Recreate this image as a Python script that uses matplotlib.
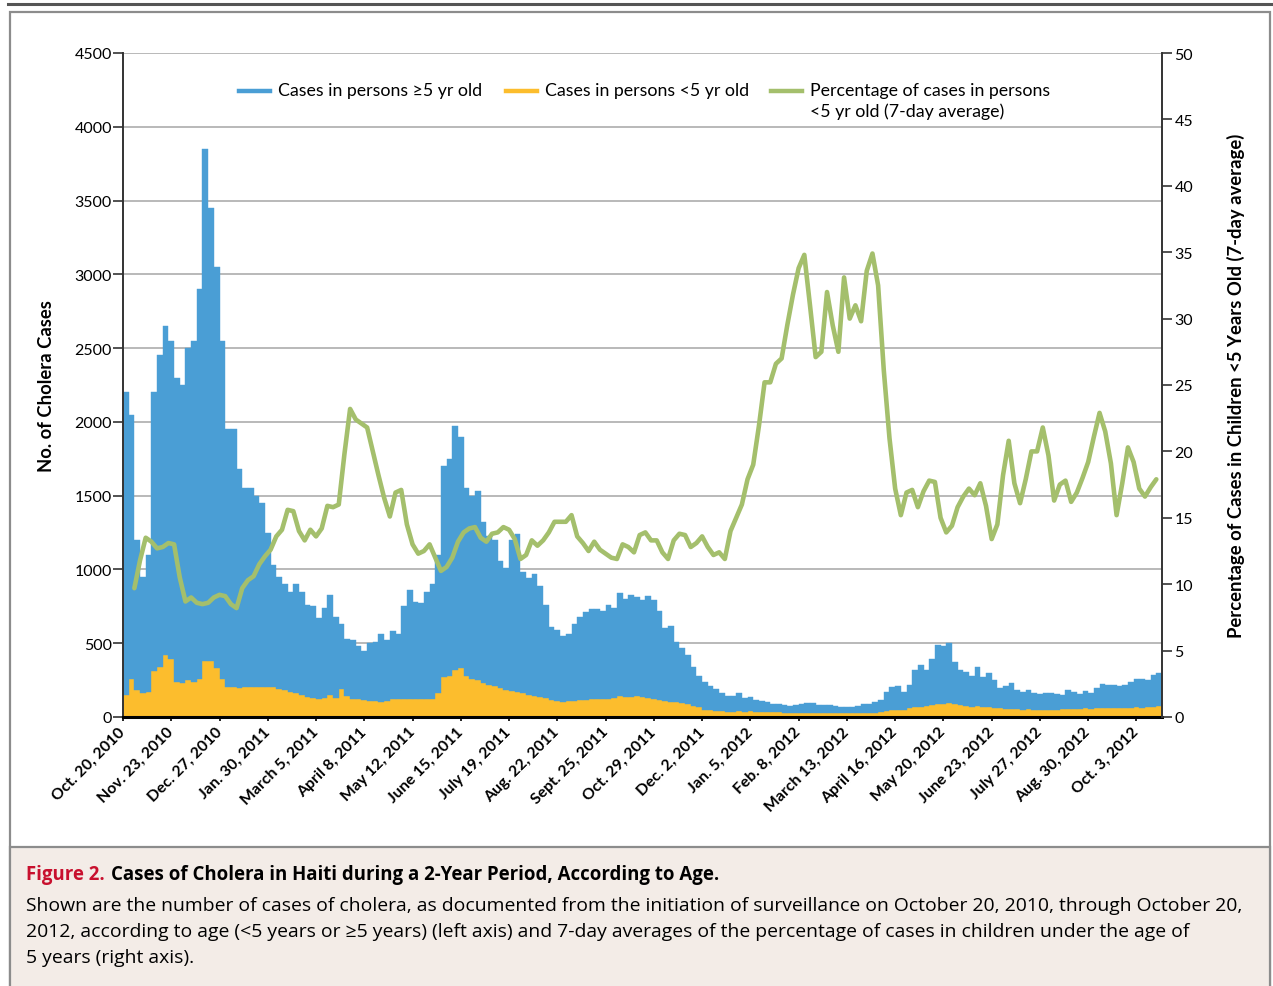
import matplotlib.pyplot as plt
import numpy as np
from matplotlib.lines import Line2D
from matplotlib.patches import Rectangle

plt.rcParams['font.family'] = ['Lato', 'DejaVu Sans']

# surveillance counts grouped in 4-day blocks, first block starts Oct 20, 2010
step = 4

cases_all = [
    2200, 2050, 1200, 950, 1100, 2200, 2450, 2650, 2550, 2300,
    2250, 2500, 2550, 2900, 3850, 3450, 3050, 2550, 1950, 1950,
    1680, 1550, 1550, 1500, 1450, 1250, 1030, 950, 900, 850,
    900, 850, 760, 750, 670, 740, 830, 680, 630, 530,
    520, 480, 450, 500, 510, 560, 520, 580, 560, 750,
    860, 780, 770, 850, 900, 1100, 1700, 1750, 1970, 1900,
    1550, 1500, 1530, 1320, 1230, 1200, 1060, 1010, 1200, 1240,
    980, 940, 970, 890, 760, 610, 590, 550, 560, 630,
    680, 710, 730, 730, 720, 760, 740, 840, 800, 830,
    810, 790, 820, 790, 720, 600, 620, 510, 470, 420,
    340, 280, 235, 210, 190, 160, 142, 140, 160, 130,
    135, 115, 108, 100, 90, 88, 80, 77, 82, 87,
    95, 95, 80, 80, 82, 76, 70, 70, 70, 75,
    85, 90, 105, 115, 170, 200, 210, 170, 220, 320,
    350, 320, 390, 490, 480, 500, 370, 320, 305, 280,
    340, 270, 300, 250, 195, 210, 230, 185, 170, 180,
    160, 155, 165, 160, 155, 150, 180, 170, 155, 175,
    165, 195, 225, 220, 215, 210, 218, 240, 255, 255,
    250, 285, 300,
]

cases_under5 = [
    150, 260, 180, 165, 170, 310, 340, 420, 390, 240,
    230, 250, 240, 260, 380, 380, 330, 260, 200, 200,
    195, 200, 200, 200, 200, 200, 200, 190, 180, 170,
    165, 150, 135, 130, 125, 130, 150, 130, 190, 140,
    125, 120, 115, 110, 110, 105, 110, 120, 125, 120,
    125, 125, 120, 125, 125, 160, 270, 280, 320, 330,
    280, 260, 250, 230, 220, 210, 195, 185, 175, 170,
    160, 150, 140, 135, 130, 115, 110, 105, 108, 110,
    115, 115, 120, 125, 120, 120, 130, 140, 135, 135,
    140, 135, 130, 125, 115, 110, 105, 100, 95, 85,
    75, 65, 50, 45, 42, 38, 35, 35, 38, 36,
    38, 36, 35, 34, 34, 33, 30, 28, 29, 28,
    30, 28, 26, 27, 26, 25, 24, 25, 24, 25,
    27, 28, 30, 33, 40, 48, 48, 50, 60, 65,
    70, 72, 80, 85, 90, 95, 85, 80, 75, 70,
    72, 65, 68, 62, 58, 55, 55, 52, 50, 52,
    50, 50, 48, 50, 48, 52, 55, 52, 55, 58,
    55, 60, 60, 58, 60, 62, 60, 62, 65, 62,
    65, 68, 75,
]

# 7-day average share of cases in children <5 (%)
pct_under5 = [
    np.nan, np.nan, 9.7, 11.8, 13.5, 13.2, 12.7, 12.8, 13.1, 13.0,
    10.5, 8.7, 9.0, 8.6, 8.5, 8.6, 9.0, 9.2, 9.1, 8.5,
    8.2, 9.7, 10.3, 10.6, 11.5, 12.1, 12.6, 13.6, 14.1, 15.6,
    15.5, 14.0, 13.3, 14.1, 13.6, 14.2, 15.9, 15.8, 16.0, 19.8,
    23.2, 22.4, 22.1, 21.8, 20.0, 18.2, 16.5, 15.1, 16.9, 17.1,
    14.5, 13.0, 12.3, 12.5, 13.0, 12.0, 11.0, 11.3, 12.0, 13.2,
    13.9, 14.2, 14.3, 13.5, 13.2, 13.8, 13.9, 14.3, 14.1, 13.4,
    11.9, 12.2, 13.3, 12.9, 13.3, 13.9, 14.7, 14.7, 14.7, 15.2,
    13.6, 13.1, 12.5, 13.2, 12.6, 12.3, 12.0, 11.9, 13.0, 12.8,
    12.4, 13.7, 13.9, 13.3, 13.3, 12.4, 11.9, 13.3, 13.8, 13.7,
    12.8, 13.1, 13.6, 12.8, 12.2, 12.4, 11.9, 14.0, 15.0, 16.0,
    17.9, 19.0, 21.9, 25.2, 25.2, 26.6, 27.0, 29.5, 31.8, 33.8,
    34.8, 31.0, 27.1, 27.5, 32.0, 29.5, 27.5, 33.1, 30.0, 31.0,
    29.8, 33.6, 34.9, 32.5, 26.1, 21.0, 17.2, 15.2, 16.9, 17.1,
    15.8, 17.0, 17.8, 17.7, 15.0, 13.9, 14.4, 15.8, 16.6, 17.2,
    16.7, 17.6, 15.9, 13.4, 14.5, 18.2, 20.8, 17.6, 16.1, 17.9,
    20.0, 20.0, 21.8, 19.7, 16.3, 17.5, 17.8, 16.2, 16.9, 18.0,
    19.2, 21.1, 22.9, 21.5, 19.1, 15.2, 17.6, 20.3, 19.2, 17.2,
    16.6, 17.3, 17.9,
]

tick_labels = ['Oct. 20, 2010', 'Nov. 23, 2010', 'Dec. 27, 2010', 'Jan. 30, 2011',
               'March 5, 2011', 'April 8, 2011', 'May 12, 2011', 'June 15, 2011',
               'July 19, 2011', 'Aug. 22, 2011', 'Sept. 25, 2011', 'Oct. 29, 2011',
               'Dec. 2, 2011', 'Jan. 5, 2012', 'Feb. 8, 2012', 'March 13, 2012',
               'April 16, 2012', 'May 20, 2012', 'June 23, 2012', 'July 27, 2012',
               'Aug. 30, 2012', 'Oct. 3, 2012']
tick_step = 34

days = np.arange(len(cases_all)) * step
cases_all = np.array(cases_all, dtype=float)
cases_under5 = np.array(cases_under5, dtype=float)
cases_5plus = cases_all - cases_under5

blue = '#4a9ed5'
yellow = '#fcbd2d'
green = '#a4bf6c'
caption_font = ['Open Sans', 'DejaVu Sans']

W, H = 1273, 987
fig = plt.figure(figsize=(W / 100, H / 100), dpi=100)

# page furniture: rule on top, grey frame, beige caption panel
fig.add_artist(Line2D([8 / W, 1], [1 - 5 / H] * 2, color='#555555', lw=2.2))
fig.add_artist(Rectangle((9.5 / W, -0.02), 1260 / W, 1 - 12.5 / H + 0.02, transform=fig.transFigure,
                         facecolor='white', edgecolor='#8c8c8c', lw=1.6, zorder=-10))
fig.add_artist(Rectangle((9.5 / W, -0.02), 1260 / W, (987 - 848) / H + 0.02, transform=fig.transFigure,
                         facecolor='#f3ece7', edgecolor='#8c8c8c', lw=1.6, zorder=-9))

ax = fig.add_axes([123 / W, 1 - 718 / H, (1162 - 123) / W, (718 - 54) / H])
ax.patch.set_alpha(0)

ax.bar(days, cases_under5, width=step, align='edge', color=yellow, edgecolor=yellow, lw=0.3, zorder=2)
ax.bar(days, cases_5plus, bottom=cases_under5, width=step, align='edge', color=blue,
       edgecolor=blue, lw=0.3, zorder=2)

ax.set_xlim(0, 732)
ax.set_ylim(0, 4500)
ax.set_yticks(np.arange(0, 4501, 500))
ax.yaxis.grid(True, color='#b3b3b3', lw=1.3)
ax.set_axisbelow(True)

ax.set_xticks(np.arange(len(tick_labels)) * tick_step)
ax.set_xticklabels(tick_labels, rotation=45, ha='right', va='center', rotation_mode='anchor',
                   fontweight='bold', fontsize=11.3)
ax.tick_params(axis='x', length=3, width=1.2, pad=6)
ax.tick_params(axis='y', length=7, width=1.2, pad=1, labelsize=11.5, color='#333333')

ax.spines['top'].set_visible(False)
ax.spines['right'].set_visible(False)
ax.spines['left'].set_color('#333333')
ax.spines['left'].set_linewidth(1.4)
ax.spines['bottom'].set_color('black')
ax.spines['bottom'].set_linewidth(2.2)
ax.spines['bottom'].set_zorder(5)

ax.set_ylabel('No. of Cholera Cases', fontsize=13.3, fontweight='bold')
ax.yaxis.set_label_coords((55 - 123) / 1039, 0.5)

ax2 = ax.twinx()
ax2.plot(days, pct_under5, color=green, lw=3.3, solid_joinstyle='round', solid_capstyle='round', zorder=3)
ax2.set_ylim(0, 50)
ax2.set_yticks(np.arange(0, 51, 5))
ax2.tick_params(axis='y', length=7, width=1.2, pad=2, labelsize=11.5, color='#333333')
for side in ['top', 'left', 'bottom']:
    ax2.spines[side].set_visible(False)
ax2.spines['right'].set_color('#333333')
ax2.spines['right'].set_linewidth(1.4)
ax2.set_ylabel('Percentage of Cases in Children <5 Years Old (7-day average)', fontsize=13.3,
               fontweight='bold')
ax2.yaxis.set_label_coords((1227 - 123) / 1039, 0.5)

# legend across the top of the plot
legend_labels = ['Cases in persons \u22655 yr old', 'Cases in persons <5 yr old',
                 'Percentage of cases in persons\n<5 yr old (7-day average)']
legend_colors = [blue, yellow, green]
legend_x = [239, 506, 771]
for lab, col, x0 in zip(legend_labels, legend_colors, legend_x):
    fig.add_artist(Line2D([x0 / W, (x0 + 31) / W], [1 - 92 / H] * 2, color=col, lw=3.2))
    fig.text((x0 + 39) / W, 1 - 83 / H, lab, fontsize=12.8, va='top', ha='left', linespacing=1.3)

# caption
t1 = fig.text(26 / W, 1 - 875 / H, 'Figure 2.', color='#c8102e', fontweight='bold', fontsize=13.4,
              va='center', family=caption_font)
fig.canvas.draw()
bb = t1.get_window_extent()
fig.text((bb.x1 + 6) / W, 1 - 875 / H, 'Cases of Cholera in Haiti during a 2-Year Period, According to Age.',
         fontweight='bold', fontsize=13.4, va='center', family=caption_font)
caption_lines = [
    'Shown are the number of cases of cholera, as documented from the initiation of surveillance on '
    'October 20, 2010, through October 20,',
    '2012, according to age (<5 years or \u22655 years) (left axis) and 7-day averages of the percentage '
    'of cases in children under the age of',
    '5 years (right axis).',
]
for i, line in enumerate(caption_lines):
    fig.text(26 / W, 1 - (906 + 26 * i) / H, line, fontsize=13.95, va='center', family=caption_font)

fig.savefig('out.png', dpi=100)
